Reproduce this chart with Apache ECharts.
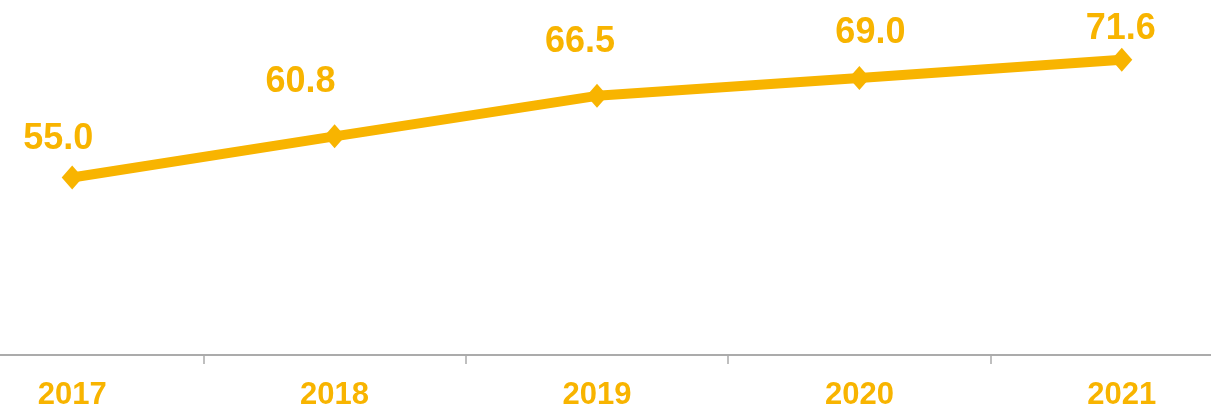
<!DOCTYPE html>
<html>
<head>
<meta charset="utf-8">
<script src="https://cdn.jsdelivr.net/npm/echarts@6/dist/echarts.min.js"></script>
<style>
  html, body { margin: 0; padding: 0; background: #fff; }
  #chart { width: 1211px; height: 408px; }
</style>
</head>
<body>
<div id="chart"></div>
<script>
  // 年份与数值
  var years = ['2017', '2018', '2019', '2020', '2021']
  var values = [55.0, 60.8, 66.5, 69.0, 71.6]
  // 数据标签的手动偏移（原图中标签位置不统一）
  var labelShift = [[-14, -38], [-34, -54], [-17, -54], [11, -45], [-1, -31]]

  var color = '#F8B400'
  var chart = echarts.init(document.getElementById('chart'))

  chart.setOption({
    animation: false,
    grid: {
      left: -59,
      right: -42,
      top: 0,
      bottom: 53,
      containLabel: false,
      outerBoundsMode: 'none'
    },
    xAxis: {
      type: 'category',
      data: years,
      boundaryGap: true,
      axisLine: { lineStyle: { color: '#ababab', width: 2 } },
      axisTick: { show: true, length: 9, lineStyle: { color: '#ababab', width: 1.5 } },
      axisLabel: {
        color: color,
        fontSize: 31,
        fontWeight: 'bold',
        fontFamily: 'Liberation Sans, Arial, sans-serif',
        margin: 25
      }
    },
    yAxis: {
      type: 'value',
      min: 30,
      max: 80,
      show: false,
      splitLine: { show: false }
    },
    series: [{
      type: 'line',
      data: values.map(function (v, i) {
        return {
          value: v,
          label: { offset: labelShift[i] }
        }
      }),
      symbol: 'diamond',
      symbolSize: [21, 24],
      itemStyle: { color: color },
      lineStyle: { color: color, width: 10 },
      label: {
        show: true,
        position: 'inside',
        align: 'center',
        verticalAlign: 'middle',
        color: color,
        fontSize: 36,
        fontWeight: 'bold',
        fontFamily: 'Liberation Sans, Arial, sans-serif',
        formatter: function (p) {
          return p.value.toFixed(1)
        }
      }
    }]
  })
</script>
</body>
</html>
